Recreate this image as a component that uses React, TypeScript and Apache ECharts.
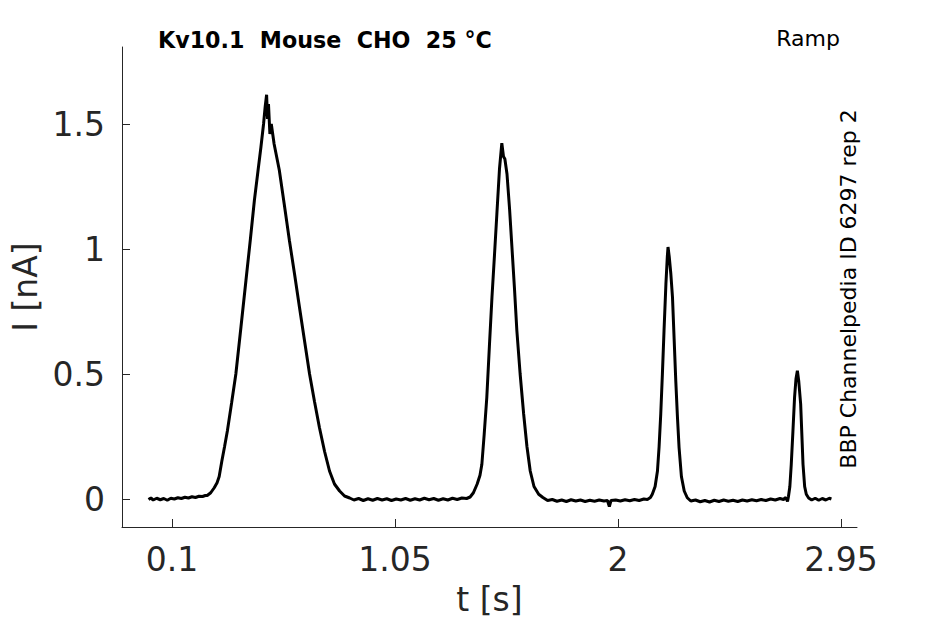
import React, { useEffect, useRef } from "react";
import * as echarts from "echarts";

// ---- data ----
const xTicks = [0.1, 1.05, 2, 2.95];
const yTicks = [0, 0.5, 1, 1.5];
const xLimits = [-0.113, 3.018];
const yLimits = [-0.112, 1.808];

const titleText = "Kv10.1  Mouse  CHO  25 °C";
const protocolText = "Ramp";
const sideText = "BBP Channelpedia ID 6297 rep 2";

// [t (s), I (nA)]
const baselineA = [
  [0.0, -0.002], [0.01, 0.004], [0.02, -0.004], [0.035, 0.003], [0.05, -0.003],
  [0.065, 0.002], [0.08, -0.005], [0.095, 0.003], [0.11, 0.0], [0.125, 0.005],
  [0.14, 0.002], [0.155, 0.007], [0.17, 0.004], [0.185, 0.009], [0.2, 0.006],
  [0.215, 0.011], [0.23, 0.01], [0.242, 0.014],
];
const peak1 = [
  [0.25, 0.014], [0.265, 0.025], [0.28, 0.045], [0.292, 0.065], [0.301, 0.09],
  [0.312, 0.15], [0.324, 0.21], [0.336, 0.273], [0.354, 0.385], [0.372, 0.5],
  [0.394, 0.69], [0.415, 0.874], [0.434, 1.04], [0.451, 1.195], [0.466, 1.31],
  [0.479, 1.409], [0.49, 1.5], [0.497, 1.57], [0.503, 1.617], [0.507, 1.52],
  [0.511, 1.58], [0.517, 1.46], [0.523, 1.5], [0.535, 1.42], [0.557, 1.316],
  [0.578, 1.18], [0.6, 1.035], [0.622, 0.9], [0.643, 0.767], [0.665, 0.63],
  [0.686, 0.5], [0.707, 0.39], [0.728, 0.286], [0.75, 0.19], [0.771, 0.112],
  [0.792, 0.06], [0.814, 0.032], [0.835, 0.012], [0.857, 0.004],
];
const baselineB = [
  [0.875, -0.004], [0.895, 0.002], [0.915, -0.006], [0.935, 0.001], [0.955, -0.005],
  [0.975, 0.002], [0.995, -0.004], [1.015, 0.001], [1.035, -0.006], [1.055, 0.0],
  [1.075, -0.004], [1.095, 0.002], [1.115, -0.005], [1.135, 0.001], [1.155, -0.004],
  [1.175, 0.003], [1.195, -0.003], [1.215, 0.002], [1.235, -0.005], [1.255, 0.001],
  [1.275, -0.004], [1.295, 0.003], [1.315, -0.002], [1.335, 0.004], [1.355, 0.002],
];
const peak2 = [
  [1.37, 0.008], [1.384, 0.025], [1.4, 0.06], [1.412, 0.095], [1.42, 0.139],
  [1.43, 0.26], [1.441, 0.406], [1.452, 0.61], [1.463, 0.807], [1.474, 0.98],
  [1.484, 1.142], [1.495, 1.32], [1.505, 1.423], [1.512, 1.37], [1.518, 1.36],
  [1.527, 1.3], [1.538, 1.16], [1.548, 1.008], [1.559, 0.84], [1.569, 0.674],
  [1.583, 0.5], [1.598, 0.34], [1.612, 0.21], [1.626, 0.112], [1.642, 0.05],
  [1.662, 0.019], [1.68, 0.006],
];
const baselineC = [
  [1.7, -0.006], [1.72, -0.002], [1.74, -0.009], [1.76, -0.004], [1.78, -0.01],
  [1.8, -0.003], [1.82, -0.008], [1.84, -0.004], [1.86, -0.01], [1.88, -0.005],
  [1.9, -0.009], [1.92, -0.004], [1.94, -0.008], [1.955, -0.006], [1.963, -0.03],
  [1.97, -0.006], [1.99, -0.004], [2.01, -0.008], [2.03, -0.003], [2.05, -0.007],
  [2.07, -0.002], [2.09, -0.006], [2.11, 0.0], [2.125, -0.002], [2.138, 0.006],
];
const peak3 = [
  [2.146, 0.019], [2.158, 0.05], [2.168, 0.112], [2.175, 0.21], [2.182, 0.34],
  [2.189, 0.5], [2.196, 0.674], [2.204, 0.86], [2.21, 0.97], [2.213, 1.008],
  [2.218, 0.97], [2.225, 0.9], [2.232, 0.807], [2.239, 0.64], [2.246, 0.473],
  [2.253, 0.33], [2.26, 0.206], [2.27, 0.09], [2.282, 0.032], [2.295, 0.005],
];
const baselineD = [
  [2.31, -0.008], [2.33, -0.004], [2.35, -0.011], [2.37, -0.006], [2.39, -0.012],
  [2.41, -0.005], [2.43, -0.01], [2.45, -0.004], [2.47, -0.009], [2.49, -0.005],
  [2.51, -0.01], [2.53, -0.004], [2.55, -0.008], [2.57, -0.003], [2.59, -0.007],
  [2.61, -0.002], [2.63, -0.006], [2.65, 0.0], [2.67, -0.004], [2.69, 0.002],
  [2.705, -0.002], [2.715, 0.006], [2.722, -0.01],
];
const peak4 = [
  [2.726, 0.01], [2.732, 0.05], [2.738, 0.139], [2.745, 0.27], [2.752, 0.406],
  [2.758, 0.48], [2.764, 0.513], [2.77, 0.47], [2.778, 0.38], [2.783, 0.26],
  [2.788, 0.139], [2.795, 0.05], [2.802, 0.019], [2.812, 0.004],
];
const baselineE = [
  [2.825, -0.004], [2.84, 0.003], [2.855, -0.005], [2.87, 0.002], [2.885, -0.004],
  [2.9, 0.003], [2.909, 0.0],
];

const trace = [
  ...baselineA, ...peak1, ...baselineB, ...peak2, ...baselineC,
  ...peak3, ...baselineD, ...peak4, ...baselineE,
];

const axisColor = "#262626";
const font = "DejaVu Sans";

export default function App() {
  const ref = useRef<HTMLDivElement>(null);
  useEffect(() => {
    if (!ref.current) return;
    const chart = echarts.init(ref.current, undefined, { renderer: "svg" });
    chart.setOption({
      animation: false,
      backgroundColor: "#ffffff",
      grid: { left: 122, right: 88, top: 47, bottom: 97, containLabel: false },
      xAxis: {
        type: "value",
        min: xLimits[0],
        max: xLimits[1],
        name: "t [s]",
        nameLocation: "middle",
        nameGap: 56,
        nameTextStyle: { fontFamily: font, fontSize: 33, color: axisColor },
        axisLine: { show: true, onZero: false, lineStyle: { color: axisColor, width: 1 } },
        axisTick: { show: true, inside: true, length: 8, customValues: xTicks, lineStyle: { color: axisColor, width: 1 } },
        axisLabel: {
          customValues: xTicks,
          margin: 16,
          fontFamily: font,
          fontSize: 33,
          color: axisColor,
          formatter: (v: number) => String(v),
        },
        splitLine: { show: false },
      },
      yAxis: {
        type: "value",
        min: yLimits[0],
        max: yLimits[1],
        name: "I [nA]",
        nameLocation: "middle",
        nameGap: 76,
        nameRotate: 90,
        nameTextStyle: { fontFamily: font, fontSize: 33, color: axisColor },
        axisLine: { show: true, onZero: false, lineStyle: { color: axisColor, width: 1 } },
        axisTick: { show: true, inside: true, length: 8, customValues: yTicks, lineStyle: { color: axisColor, width: 1 } },
        axisLabel: {
          customValues: yTicks,
          margin: 17,
          fontFamily: font,
          fontSize: 33,
          color: axisColor,
          formatter: (v: number) => String(v),
        },
        splitLine: { show: false },
      },
      series: [
        {
          type: "line",
          data: trace,
          showSymbol: false,
          symbol: "none",
          lineStyle: { color: "#000000", width: 3 },
          clip: true,
        },
      ],
      graphic: [
        {
          type: "text",
          left: 158,
          top: 29,
          style: { text: titleText, fontFamily: font, fontWeight: "bold", fontSize: 22.2, fill: "#000000" },
        },
        {
          type: "text",
          right: 105,
          top: 27,
          style: { text: protocolText, fontFamily: font, fontSize: 22, fill: "#000000" },
        },
        {
          type: "text",
          x: 848.5,
          y: 289,
          rotation: Math.PI / 2,
          style: {
            text: sideText,
            fontFamily: font,
            fontSize: 22,
            fill: "#000000",
            align: "center",
            verticalAlign: "middle",
          },
        },
      ],
    });
    return () => chart.dispose();
  }, []);
  return <div ref={ref} style={{ width: 945, height: 624, position: "absolute", left: 0, top: 0 }} />;
}
